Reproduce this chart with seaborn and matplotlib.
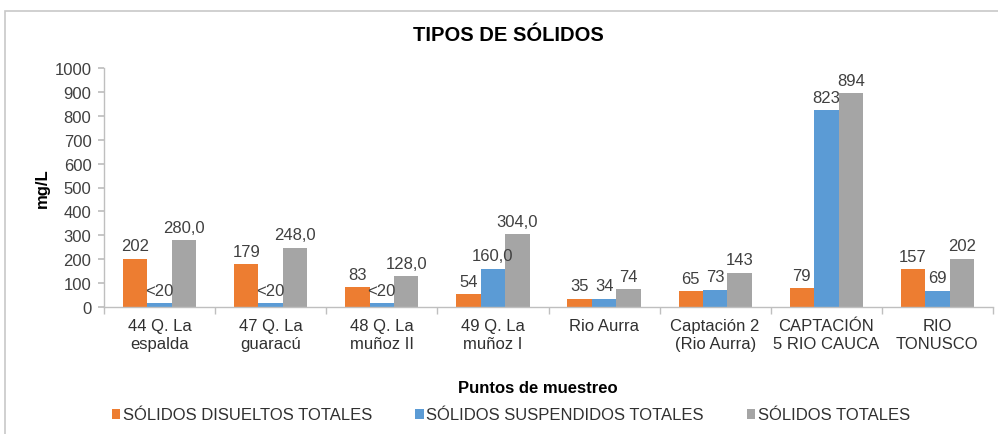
import matplotlib
matplotlib.use("Agg")
import matplotlib.pyplot as plt
from matplotlib.patches import Rectangle, Patch
import seaborn as sns
import pandas as pd

# Sampling points (two-line tick labels)
puntos = [
    "44 Q. La\nespalda",
    "47 Q. La\nguaracú",
    "48 Q. La\nmuñoz II",
    "49 Q. La\nmuñoz I",
    "Rio Aurra",
    "Captación 2\n(Rio Aurra)",
    "CAPTACIÓN\n5 RIO CAUCA",
    "RIO\nTONUSCO",
]

series = ["SÓLIDOS DISUELTOS TOTALES", "SÓLIDOS SUSPENDIDOS TOTALES", "SÓLIDOS TOTALES"]

disueltos = [202, 179, 83, 54, 35, 65, 79, 157]
suspendidos = [15, 15, 15, 160, 34, 73, 823, 69]
totales = [280, 248, 128, 304, 74, 143, 894, 202]

disueltos_lbl = ["202", "179", "83", "54", "35", "65", "79", "157"]
suspendidos_lbl = ["<20", "<20", "<20", "160,0", "34", "73", "823", "69"]
totales_lbl = ["280,0", "248,0", "128,0", "304,0", "74", "143", "894", "202"]

colores = ["#ED7D31", "#5B9BD5", "#A5A5A5"]

df = pd.DataFrame({
    "punto": puntos * 3,
    "serie": [series[0]] * 8 + [series[1]] * 8 + [series[2]] * 8,
    "valor": disueltos + suspendidos + totales,
})

sns.set_theme(style="white")
plt.rcParams["font.family"] = ["Liberation Sans", "DejaVu Sans"]

fig = plt.figure(figsize=(9.98, 4.35), dpi=100)
ax = fig.add_axes([104 / 998, 1 - 308 / 435, (993 - 104) / 998, (308 - 69) / 435])

sns.barplot(data=df, x="punto", y="valor", hue="serie", hue_order=series,
            palette=colores, width=0.66, saturation=1, ax=ax, legend=False,
            errorbar=None, edgecolor="none")

for cont, labels in zip(ax.containers, [disueltos_lbl, suspendidos_lbl, totales_lbl]):
    ax.bar_label(cont, labels=labels, padding=4, fontsize=12, color="#404040")

ax.set_ylim(0, 1000)
ax.set_xlim(-0.5, 7.5)
ax.set_yticks(range(0, 1001, 100))
ax.tick_params(axis="y", labelsize=12, labelcolor="#404040", length=4,
               color="#BFBFBF", direction="out", left=True, pad=5)
ax.set_xticks(range(8))
ax.set_xticklabels(puntos, fontsize=12, color="#303030")
ax.tick_params(axis="x", length=0, pad=8)
ax.set_xticks([i - 0.5 for i in range(9)], minor=True)
ax.tick_params(axis="x", which="minor", length=5, color="#BFBFBF", bottom=True)

for s in ["top", "right"]:
    ax.spines[s].set_visible(False)
for s in ["left", "bottom"]:
    ax.spines[s].set_color("#BFBFBF")
    ax.spines[s].set_linewidth(1)

ax.set_xlabel("")
ax.set_ylabel("")

fig.text(508 / 998, 1 - 36 / 435, "TIPOS DE SÓLIDOS", ha="center", va="center",
         fontsize=14.5, fontweight="bold", color="#000000")
fig.text(42 / 998, 1 - 188 / 435, "mg/L", rotation=90, ha="center", va="center",
         fontsize=12, fontweight="bold", color="#000000")
fig.text(538 / 998, 1 - 393 / 435, "Puntos de muestreo", ha="center", va="baseline",
         fontsize=12, fontweight="bold", color="#000000")

handles = [Patch(facecolor=c, edgecolor="none") for c in colores]
fig.legend(handles, series, loc="center", bbox_to_anchor=(511 / 998, 1 - 416 / 435),
           ncol=3, frameon=False, fontsize=12, handlelength=0.5, handleheight=0.55,
           handletextpad=0.15, columnspacing=2.6, labelcolor="#303030",
           borderpad=0, borderaxespad=0)

# Chart area border
fig.patches.append(Rectangle((5 / 998, -0.05), 1.1, (1 - 12 / 435) + 0.05,
                             transform=fig.transFigure, fill=False,
                             edgecolor="#C8C8C8", linewidth=1.2))

fig.savefig("out.png", dpi=100, facecolor="white")
